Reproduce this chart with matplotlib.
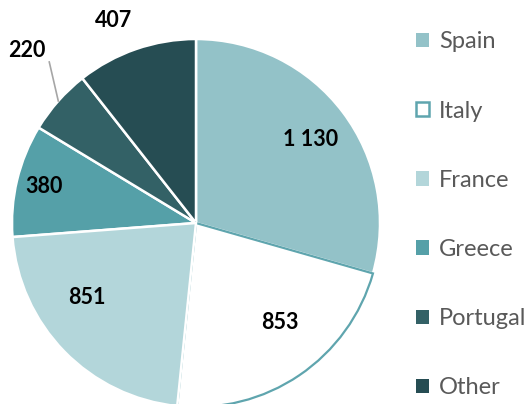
import numpy as np
import matplotlib.pyplot as plt
from matplotlib.patches import Patch

countries = ['Spain', 'Italy', 'France', 'Greece', 'Portugal', 'Other']
values = [1130, 853, 851, 380, 220, 407]
value_labels = ['1 130', '853', '851', '380', '220', '407']

fills = ['#93C2C8', '#FFFFFF', '#B3D6DA', '#55A0A8', '#336166', '#264D53']
edges = ['white', '#5FA5AE', 'white', 'white', 'white', 'white']
# label placement: radius as a fraction of the pie, plus a small angle tweak
lab_r = [0.77, 0.71, 0.72, 0.85, 1.31, 1.19]
lab_dt = [-1, 6, -10, 0, -4, 3]

plt.rcParams['font.family'] = ['Lato', 'DejaVu Sans']

fig = plt.figure(figsize=(5.31, 4.04), dpi=100)
ax = fig.add_axes([12/531, -3/404, 368/531, 368/404])

wedges, _ = ax.pie(values, startangle=90, counterclock=False, radius=1,
                   colors=fills, wedgeprops=dict(linewidth=1.8))
for w, ec in zip(wedges, edges):
    w.set_edgecolor(ec)
wedges[1].set_linewidth(1.6)
wedges[1].set_zorder(2)
wedges[2].set_zorder(3)

for i, w in enumerate(wedges):
    mid = np.deg2rad((w.theta1 + w.theta2) / 2 + lab_dt[i])
    x, y = lab_r[i]*np.cos(mid), lab_r[i]*np.sin(mid)
    ax.text(x, y, value_labels[i], ha='center', va='center', fontsize=15.5,
            fontweight='bold', color='black', zorder=5)
    if lab_r[i] > 1.25:
        # leader line for the small slice
        ex, ey = 1.0*np.cos(mid + np.deg2rad(4)), 1.0*np.sin(mid + np.deg2rad(4))
        ax.plot([x + 0.12, ex], [y - 0.06, ey], color='#A6A6A6', lw=1.2,
                clip_on=False, zorder=4)

ax.set_xlim(-1, 1)
ax.set_ylim(-1, 1)
ax.axis('off')

handles = [Patch(facecolor=f, edgecolor=(e if e != 'white' else f), linewidth=(1.8 if e != 'white' else 0))
           for f, e in zip(fills, edges)]
leg = fig.legend(handles, countries, loc='upper left', bbox_to_anchor=(407/531, 1 - 22/404),
                 frameon=False, fontsize=17, handlelength=0.55, handleheight=0.55,
                 handletextpad=0.4, labelspacing=2.04, borderaxespad=0)
for t in leg.get_texts():
    t.set_color('#595959')

fig.savefig('out.png', dpi=100)
